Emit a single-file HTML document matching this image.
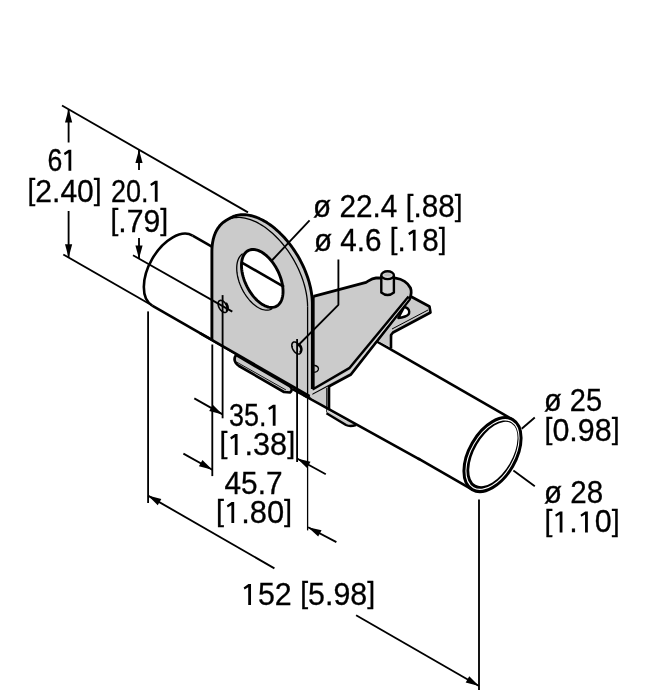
<!DOCTYPE html>
<html><head><meta charset="utf-8">
<style>
html,body{margin:0;padding:0;background:#fff;width:653px;height:700px;overflow:hidden}
svg{display:block;will-change:transform}
text{font-family:"Liberation Sans",sans-serif;font-size:31px;fill:#000;stroke:#000;stroke-width:0.3px}
</style></head><body>
<svg width="653" height="700" viewBox="0 0 653 700">
<g fill="none" stroke="#000" stroke-linecap="butt" stroke-linejoin="round">
<path d="M192.61,235.55 A23.34,40.42 30 0 0 152.19,305.56" stroke-width="2.6"/>
<line x1="152.19" y1="305.56" x2="309.6" y2="396.12" stroke-width="2.6"/>
<line x1="418" y1="458.45" x2="472.29" y2="489.62" stroke-width="2.6"/>
<line x1="192.61" y1="235.55" x2="512.71" y2="419.61" stroke-width="2.6"/>
<ellipse cx="492.5" cy="454.61" rx="23.34" ry="40.42" transform="rotate(30 492.5 454.61)" fill="#fff" stroke-width="3"/>
<ellipse cx="492.5" cy="454.61" rx="20.84" ry="37.62" transform="rotate(30 492.5 454.61)" fill="#000" stroke="none"/>
<ellipse cx="493.4" cy="454.01" rx="18.84" ry="35.62" transform="rotate(30 493.4 454.01)" fill="#fff" stroke="none"/>
<path d="M410,296 L429.5,306.5 L430.5,312.5 L393,332.5 L391,347.5 L378,341 Z" fill="#cbcbcb" stroke="none"/>
<path d="M410,296 L429.5,306.5 L430.5,312.5 L393,332.5 L391,335 L391,348.5" stroke-width="2.6"/>
<path d="M428,310 L392,329" stroke-width="1"/>
<path d="M404.2,307 C410.5,308.5 411,314.5 405,316.5 C403,317.2 400.5,317.8 398.3,318 Z" fill="#fff" stroke-width="2.4"/>
<path d="M313.4,296.3 L366.1,282.3 C370,280 372,278.3 376,278 L395.6,278.1 C402,279 408,283 410.5,288 C412,292 411,296 409.5,299.5 L350.9,374.5 L309.4,396.7 L309.4,296.3 Z" fill="#cbcbcb" stroke="none"/>
<path d="M313.4,296.3 L366.1,282.3 C370,280 372,278.3 376,278 L395.6,278.1 C402,279 408,283 410.5,288 C412,292 411,296 409.5,299.5 L350.9,374.5 L311,396 Q307,397.5 304,395" stroke-width="2.8"/>
<path d="M408.6,296.5 L349.7,367.8 L313.4,389 L313.4,296.3" stroke-width="2.5"/>
<path d="M408.5,299 L350.4,371.3 L312,392.3" stroke="#dedede" stroke-width="0.7"/>
<path d="M314.2,365.2 Q319.5,366.5 318.2,370 Q317,372.5 314.2,372.3" stroke-width="1.4"/>
<path d="M381.3,276 L381.3,292.5 Q387.6,297.5 393.9,292.5 L393.9,276 Z" fill="#d4d4d4" stroke-width="2.4"/>
<ellipse cx="387.6" cy="275.2" rx="6.3" ry="3.9" fill="#d4d4d4" stroke-width="2.4"/>
<ellipse cx="387.6" cy="274.8" rx="3.4" ry="1.5" fill="#bdbdbd" stroke="none"/>
<path d="M309.6,396.2 L329,386 L329,409.26 Z" fill="#cbcbcb" stroke="none"/>
<line x1="329" y1="386" x2="329" y2="409.26" stroke-width="2.6"/>
<line x1="326.8" y1="388" x2="326.8" y2="412.5" stroke-width="1.1"/>
<path d="M327,408.15 L352,421.98 Q356,424.8 354.5,425.8 L349,426.3 L327,413.5 Z" fill="#cbcbcb" stroke="none"/>
<path d="M326.5,413.3 L346,425 Q350,427 356,425" stroke-width="2.5"/>
<path d="M329,411.16 L347,421.12" stroke="#ececec" stroke-width="0.9"/>
<path d="M236,355 L290,386.5 Q293.5,389.5 290,392.5 L284,392 L239,366 Q232,361 236,355 Z" fill="#cbcbcb" stroke-width="2.6"/>
<path d="M236.5,362 L286,390" stroke-width="0.9"/>
<path d="M216.67,342.68 L216.67,248.82 L216.67,248.82 L216.73,245.97 L216.93,243.2 L217.26,240.52 L217.71,237.94 L218.3,235.47 L219.01,233.1 L219.84,230.86 L220.8,228.74 L221.88,226.75 L223.08,224.9 L224.39,223.19 L225.8,221.63 L227.33,220.21 L228.96,218.95 L230.68,217.85 L232.5,216.91 L234.4,216.13 L236.39,215.51 L238.45,215.07 L240.59,214.79 L242.79,214.68 L245.05,214.74 L247.37,214.97 L249.73,215.37 L252.13,215.93 L254.57,216.66 L257.03,217.56 L259.51,218.62 L262.01,219.83 L264.51,221.2 L267.02,222.72 L269.51,224.39 L272,226.2 L274.46,228.15 L276.9,230.23 L279.3,232.44 L281.66,234.77 L283.97,237.21 L286.23,239.76 L288.44,242.41 L290.57,245.16 L292.64,247.99 L294.62,250.9 L296.53,253.88 L298.35,256.92 L300.07,260.01 L301.7,263.15 L303.22,266.32 L304.64,269.53 L305.95,272.75 L307.14,275.98 L308.22,279.21 L309.18,282.44 L310.02,285.65 L310.73,288.83 L311.31,291.98 L311.77,295.09 L312.1,298.15 L312.29,301.15 L312.36,304.07 L312.36,397.71 Z" fill="#cbcbcb" stroke="none"/>
<path d="M211.9,339.94 L211.9,251.57 L211.9,251.57 L211.97,248.72 L212.17,245.95 L212.49,243.27 L212.95,240.69 L213.53,238.22 L214.25,235.85 L215.08,233.61 L216.04,231.49 L217.12,229.5 L218.31,227.65 L219.62,225.94 L221.04,224.38 L222.57,222.96 L224.19,221.7 L225.92,220.6 L227.73,219.66 L229.64,218.88 L231.63,218.26 L233.69,217.82 L235.83,217.54 L238.03,217.43 L240.29,217.49 L242.6,217.72 L244.96,218.12 L247.37,218.68 L249.8,219.41 L252.27,220.31 L254.75,221.37 L257.25,222.58 L259.75,223.95 L262.25,225.47 L264.75,227.14 L267.23,228.95 L269.7,230.9 L272.13,232.98 L274.54,235.19 L276.9,237.52 L279.21,239.96 L281.47,242.51 L283.67,245.16 L285.81,247.91 L287.87,250.74 L289.86,253.65 L291.77,256.63 L293.58,259.67 L295.31,262.76 L296.93,265.9 L298.46,269.07 L299.88,272.28 L301.19,275.5 L302.38,278.73 L303.46,281.96 L304.42,285.19 L305.25,288.4 L305.97,291.58 L306.55,294.73 L307.01,297.84 L307.33,300.9 L307.53,303.9 L307.6,306.82 L307.6,394.97 Z" fill="#cbcbcb" stroke="none"/>
<path d="M225.92,220.6 L227.27,219.88 L228.68,219.25 L230.13,218.71 L231.63,218.26 L233.17,217.91 L234.75,217.66 L236.37,217.5 L238.03,217.43 L239.72,217.46 L241.44,217.58 L243.19,217.8 L244.96,218.12 L246.76,218.53 L248.58,219.03 L250.42,219.62 L252.27,220.31 L254.13,221.09 L256,221.95 L257.87,222.91 L259.75,223.95 L261.63,225.08 L263.5,226.29 L265.37,227.58 L267.23,228.95 L269.08,230.4 L270.92,231.93 L272.74,233.52 L274.54,235.19 L276.31,236.93 L278.06,238.73 L279.78,240.59 L281.47,242.51 L283.13,244.49 L284.75,246.53 L286.33,248.61 L287.87,250.74 L289.37,252.91 L290.82,255.13 L292.23,257.38 L293.58,259.67 L294.88,261.98 L296.13,264.32 L297.32,266.69 L298.46,269.07 L299.53,271.47 L300.55,273.89 L301.5,276.31 L302.38,278.73 L303.2,281.16 L303.95,283.58 L304.64,285.99 L305.25,288.4 L305.8,290.79 L306.27,293.16 L306.68,295.52 L307.01,297.84 L307.26,300.14 L307.45,302.4 L307.56,304.63 L307.6,306.82" stroke-width="1.3"/>
<line x1="307.6" y1="306.82" x2="307.6" y2="530.4" stroke-width="1.3"/>
<path d="M211.9,339.94 L211.9,251.57 L211.9,251.57 L211.93,249.85 L212,248.16 L212.12,246.5 L212.28,244.87 L212.49,243.27 L212.75,241.71 L213.06,240.19 L213.41,238.7 L213.8,237.26 L214.25,235.85 L214.73,234.49 L215.26,233.18 L215.84,231.9 L216.46,230.68 L217.12,229.5 L217.82,228.38 L218.57,227.3 L219.35,226.27 L220.18,225.3 L221.04,224.38 L221.94,223.51 L222.88,222.7 L223.86,221.94 L224.87,221.24 L225.92,220.6 L230.68,217.85 L231.84,217.22 L233.03,216.67 L234.26,216.18 L235.53,215.76 L236.83,215.4 L238.15,215.12 L239.51,214.91 L240.9,214.76 L242.31,214.69 L243.75,214.69 L245.22,214.75 L246.7,214.89 L248.2,215.09 L249.73,215.37 L251.27,215.71 L252.82,216.12 L254.39,216.61 L255.97,217.16 L257.56,217.77 L259.16,218.45 L260.76,219.2 L262.37,220.02 L263.98,220.89 L265.59,221.83 L267.2,222.84 L268.8,223.9 L270.4,225.02 L272,226.2 L273.58,227.44 L275.16,228.73 L276.72,230.08 L278.27,231.48 L279.81,232.93 L281.33,234.43 L282.82,235.98 L284.3,237.57 L285.76,239.21 L287.19,240.89 L288.59,242.61 L289.97,244.37 L291.32,246.16 L292.64,247.99 L293.92,249.85 L295.18,251.74 L296.4,253.66 L297.58,255.61 L298.72,257.57 L299.83,259.56 L300.9,261.57 L301.92,263.6 L302.9,265.64 L303.84,267.69 L304.74,269.76 L305.59,271.83 L306.39,273.9 L307.14,275.98 L307.85,278.06 L308.51,280.14 L309.12,282.21 L309.67,284.28 L310.18,286.33 L310.64,288.38 L311.04,290.41 L311.39,292.43 L311.68,294.43 L311.93,296.41 L312.12,298.36 L312.25,300.3 L312.33,302.2 L312.36,304.07 L312.36,389" stroke-width="2.9"/>
<path d="M283.05,291.41 L283,289.57 L282.84,287.68 L282.59,285.74 L282.24,283.76 L281.79,281.76 L281.25,279.75 L280.61,277.72 L279.89,275.71 L279.08,273.7 L278.18,271.72 L277.21,269.77 L276.17,267.86 L275.06,266 L273.89,264.21 L272.65,262.48 L271.37,260.83 L270.05,259.27 L268.69,257.8 L267.29,256.44 L265.87,255.17 L264.44,254.03 L262.99,253 L261.54,252.09 L260.09,251.32 L258.65,250.67 L257.23,250.16 L255.84,249.79 L254.48,249.56 L253.15,249.47 L251.87,249.52 L250.64,249.71 L249.47,250.05 L248.36,250.52 L247.31,251.12 L246.34,251.86 L245.45,252.73 L244.64,253.72 L243.91,254.84 L243.28,256.07 L242.73,257.41 L242.28,258.85 L241.93,260.38 L241.68,262.01 L241.53,263.71 L241.48,265.49 L241.53,267.33 L241.68,269.22 L241.93,271.16 L242.28,273.14 L242.73,275.14 L243.28,277.15 L243.91,279.18 L244.64,281.19 L245.45,283.2 L246.34,285.18 L247.31,287.13 L248.36,289.04 L249.47,290.9 L250.64,292.69 L251.87,294.42 L253.15,296.07 L254.48,297.63 L255.84,299.1 L257.23,300.46 L258.65,301.73 L260.09,302.87 L261.54,303.9 L262.99,304.81 L264.44,305.58 L265.87,306.23 L267.29,306.74 L268.69,307.11 L270.05,307.34 L271.37,307.43 L272.65,307.38 L273.89,307.19 L275.06,306.85 L276.17,306.38 L277.21,305.78 L278.18,305.04 L279.08,304.17 L279.89,303.18 L280.61,302.06 L281.25,300.83 L281.79,299.49 L282.24,298.05 L282.59,296.52 L282.84,294.89 L283,293.19 L283.05,291.41 Z" fill="#fff" stroke-width="2.9"/>
<path d="M242.8,253.71 L241.91,254.34 L241.08,255.07 L240.31,255.91 L239.61,256.85 L238.98,257.89 L238.43,259.01 L237.94,260.23 L237.54,261.52 L237.22,262.9 L236.97,264.34 L236.81,265.86 L236.73,267.43 L236.73,269.06 L236.81,270.74 L236.97,272.45 L237.22,274.21 L237.54,275.99 L237.94,277.79 L238.43,279.6 L238.98,281.42 L239.61,283.24 L240.31,285.05 L241.08,286.85 L241.91,288.62 L242.8,290.36 L243.76,292.07 L244.76,293.74 L245.82,295.35 L246.92,296.91 L248.06,298.41 L249.25,299.84 L250.46,301.2 L251.7,302.48 L252.97,303.67 L254.25,304.77 L255.54,305.79 L256.85,306.7 L258.15,307.51 L259.46,308.22 L260.75,308.83 L262.03,309.32 L263.3,309.71 L264.54,309.98 L265.75,310.14 L266.94,310.18 L268.08,310.11 L269.18,309.92 L270.24,309.62 L271.24,309.21 L272.2,308.69" stroke-width="1.3"/>
<line x1="241" y1="262.13" x2="284" y2="286.85" stroke-width="2.6"/>
<path d="M227.48,309.1 L227.42,308.22 L227.25,307.3 L226.97,306.35 L226.58,305.41 L226.11,304.49 L225.55,303.62 L224.92,302.81 L224.25,302.1 L223.53,301.49 L222.8,301 L222.07,300.64 L221.35,300.43 L220.68,300.36 L220.05,300.44 L219.49,300.67 L219.02,301.04 L218.63,301.54 L218.35,302.16 L218.18,302.89 L218.12,303.7 L218.18,304.58 L218.35,305.5 L218.63,306.45 L219.02,307.39 L219.49,308.31 L220.05,309.18 L220.68,309.99 L221.35,310.7 L222.07,311.31 L222.8,311.8 L223.53,312.16 L224.25,312.37 L224.92,312.44 L225.55,312.36 L226.11,312.13 L226.58,311.76 L226.97,311.26 L227.25,310.64 L227.42,309.91 L227.48,309.1 Z" stroke-width="1.6"/>
<path d="M225.86,310.5 L226.19,310.44 L226.49,310.33 L226.77,310.18 L227.01,309.97 L227.22,309.71 L227.4,309.41 L227.54,309.07 L227.64,308.7 L227.7,308.29 L227.72,307.85 L227.7,307.39 L227.64,306.91 L227.54,306.42 L227.4,305.92 L227.22,305.41 L227.01,304.91 L226.77,304.42 L226.49,303.94 L226.19,303.48 L225.86,303.05" stroke-width="2.4"/>
<path d="M301.18,350.7 L301.12,349.82 L300.95,348.9 L300.67,347.95 L300.28,347.01 L299.81,346.09 L299.25,345.22 L298.62,344.41 L297.95,343.7 L297.23,343.09 L296.5,342.6 L295.77,342.24 L295.05,342.03 L294.38,341.96 L293.75,342.04 L293.19,342.27 L292.72,342.64 L292.33,343.14 L292.05,343.76 L291.88,344.49 L291.82,345.3 L291.88,346.18 L292.05,347.1 L292.33,348.05 L292.72,348.99 L293.19,349.91 L293.75,350.78 L294.38,351.59 L295.05,352.3 L295.77,352.91 L296.5,353.4 L297.23,353.76 L297.95,353.97 L298.62,354.04 L299.25,353.96 L299.81,353.73 L300.28,353.36 L300.67,352.86 L300.95,352.24 L301.12,351.51 L301.18,350.7 Z" stroke-width="1.6"/>
<path d="M299.56,352.1 L299.89,352.04 L300.19,351.93 L300.47,351.78 L300.71,351.57 L300.92,351.31 L301.1,351.01 L301.24,350.67 L301.34,350.3 L301.4,349.89 L301.42,349.45 L301.4,348.99 L301.34,348.51 L301.24,348.02 L301.1,347.52 L300.92,347.01 L300.71,346.51 L300.47,346.02 L300.19,345.54 L299.89,345.08 L299.56,344.65" stroke-width="2.4"/>
<line x1="200" y1="333.1" x2="309.6" y2="396.12" stroke-width="2.6"/>
<line x1="292.2" y1="388.9" x2="420" y2="459.6" stroke-width="2.6"/>
<line x1="62" y1="105.5" x2="248" y2="212.4" stroke-width="1.85"/>
<line x1="63.3" y1="254.5" x2="152.19" y2="305.56" stroke-width="1.85"/>
<line x1="68.6" y1="142.5" x2="68.6" y2="109.3" stroke-width="1.85"/><path d="M68.6,109.3 L72.2,122.6 L65,122.6 Z" fill="#000" stroke="none"/>
<line x1="68.6" y1="211" x2="68.6" y2="257.55" stroke-width="1.85"/><path d="M68.6,257.55 L65,244.25 L72.2,244.25 Z" fill="#000" stroke="none"/>
<line x1="139" y1="170" x2="139" y2="149.8" stroke-width="1.85"/><path d="M139,149.8 L142.6,163.1 L135.4,163.1 Z" fill="#000" stroke="none"/>
<line x1="139" y1="238" x2="139" y2="258.7" stroke-width="1.85"/><path d="M139,258.7 L135.4,245.4 L142.6,245.4 Z" fill="#000" stroke="none"/>
<line x1="133" y1="255.3" x2="232.3" y2="311.6" stroke-width="1.85"/>
<line x1="309.6" y1="220.3" x2="271.4" y2="261" stroke-width="1.85"/>
<path d="M338.4,259.4 L338.4,304.8 L297.5,346" stroke-width="1.85"/>
<line x1="521.7" y1="428.8" x2="534.8" y2="417.5" stroke-width="1.85"/>
<line x1="513.4" y1="470.6" x2="534.8" y2="486.2" stroke-width="1.85"/>
<line x1="148.1" y1="311.4" x2="148.1" y2="503" stroke-width="1.85"/>
<line x1="212.3" y1="344.5" x2="212.3" y2="476.1" stroke-width="1.85"/>
<line x1="222.6" y1="295.1" x2="222.6" y2="418.3" stroke-width="1.85"/>
<line x1="297.1" y1="339" x2="297.1" y2="462" stroke-width="1.85"/>
<line x1="479" y1="499.4" x2="479" y2="690" stroke-width="1.85"/>
<line x1="194.3" y1="398.4" x2="222.6" y2="414.4" stroke-width="1.85"/><path d="M222.6,414.4 L209.25,410.99 L212.79,404.72 Z" fill="#000" stroke="none"/>
<line x1="183.4" y1="453.6" x2="212.3" y2="469.7" stroke-width="1.85"/><path d="M212.3,469.7 L198.93,466.37 L202.43,460.08 Z" fill="#000" stroke="none"/>
<line x1="325.8" y1="474.3" x2="297.1" y2="458.5" stroke-width="1.85"/><path d="M297.1,458.5 L310.49,461.76 L307.01,468.07 Z" fill="#000" stroke="none"/>
<line x1="336.4" y1="542.1" x2="308.1" y2="527.2" stroke-width="1.85"/><path d="M308.1,527.2 L321.55,530.21 L318.19,536.58 Z" fill="#000" stroke="none"/>
<line x1="274.4" y1="568.4" x2="148" y2="495.6" stroke-width="1.85"/><path d="M148,495.6 L161.32,499.12 L157.73,505.36 Z" fill="#000" stroke="none"/>
<line x1="356.1" y1="615.3" x2="479" y2="686" stroke-width="1.85"/><path d="M479,686 L465.68,682.49 L469.27,676.25 Z" fill="#000" stroke="none"/>
</g>
<g>
<text x="47.5" y="170.8" textLength="29.63" lengthAdjust="spacingAndGlyphs">6 </text>
<text x="27.5" y="201.5" textLength="74.13" lengthAdjust="spacingAndGlyphs"><tspan dy="-1.8" style="font-size:29px">[</tspan><tspan dy="1.8">2.40</tspan><tspan dy="-1.8" style="font-size:29px">]</tspan></text>
<text x="111" y="201.7" textLength="52.57" lengthAdjust="spacingAndGlyphs">20. </text>
<text x="110.5" y="231.7" textLength="57.73" lengthAdjust="spacingAndGlyphs"><tspan dy="-1.8" style="font-size:29px">[</tspan><tspan dy="1.8">.79</tspan><tspan dy="-1.8" style="font-size:29px">]</tspan></text>
<text x="313" y="217.4" textLength="149.52" lengthAdjust="spacingAndGlyphs">ø 22.4 <tspan dy="-1.8" style="font-size:29px">[</tspan><tspan dy="1.8">.88</tspan><tspan dy="-1.8" style="font-size:29px">]</tspan></text>
<text x="314" y="250.8" textLength="132.54" lengthAdjust="spacingAndGlyphs">ø 4.6 <tspan dy="-1.8" style="font-size:29px">[</tspan><tspan dy="1.8">. 8</tspan><tspan dy="-1.8" style="font-size:29px">]</tspan></text>
<text x="544" y="411.2" textLength="58.05" lengthAdjust="spacingAndGlyphs">ø 25</text>
<text x="544.5" y="441.1" textLength="75.09" lengthAdjust="spacingAndGlyphs"><tspan dy="-1.8" style="font-size:29px">[</tspan><tspan dy="1.8">0.98</tspan><tspan dy="-1.8" style="font-size:29px">]</tspan></text>
<text x="544" y="502.9" textLength="59.05" lengthAdjust="spacingAndGlyphs">ø 28</text>
<text x="544.5" y="532.4" textLength="75.09" lengthAdjust="spacingAndGlyphs"><tspan dy="-1.8" style="font-size:29px">[</tspan><tspan dy="1.8"> . 0</tspan><tspan dy="-1.8" style="font-size:29px">]</tspan></text>
<text x="229" y="425.7" textLength="52.53" lengthAdjust="spacingAndGlyphs">35. </text>
<text x="219.5" y="455" textLength="75.67" lengthAdjust="spacingAndGlyphs"><tspan dy="-1.8" style="font-size:29px">[</tspan><tspan dy="1.8"> .38</tspan><tspan dy="-1.8" style="font-size:29px">]</tspan></text>
<text x="224.5" y="494.1" textLength="58.02" lengthAdjust="spacingAndGlyphs">45.7</text>
<text x="216" y="523.1" textLength="76.14" lengthAdjust="spacingAndGlyphs"><tspan dy="-1.8" style="font-size:29px">[</tspan><tspan dy="1.8"> .80</tspan><tspan dy="-1.8" style="font-size:29px">]</tspan></text>
<text x="241" y="605.1" textLength="134.1" lengthAdjust="spacingAndGlyphs"> 52 <tspan dy="-1.8" style="font-size:29px">[</tspan><tspan dy="1.8">5.98</tspan><tspan dy="-1.8" style="font-size:29px">]</tspan></text>
<path d="M68.47,170.8 L68.47,153 L64.87,155.2 L63.87,153.1 L68.67,149.8 L71.27,149.8 L71.27,170.8 Z" fill="#000"/>
<path d="M154.81,201.7 L154.81,183.9 L151.21,186.1 L150.21,184 L155.01,180.7 L157.61,180.7 L157.61,201.7 Z" fill="#000"/>
<path d="M412.83,250.8 L412.83,233 L409.23,235.2 L408.23,233.1 L413.03,229.8 L415.63,229.8 L415.63,250.8 Z" fill="#000"/>
<path d="M559.66,532.4 L559.66,514.6 L556.06,516.8 L555.06,514.7 L559.86,511.4 L562.46,511.4 L562.46,532.4 Z" fill="#000"/>
<path d="M585.04,532.4 L585.04,514.6 L581.44,516.8 L580.44,514.7 L585.24,511.4 L587.84,511.4 L587.84,532.4 Z" fill="#000"/>
<path d="M272.77,425.7 L272.77,407.9 L269.17,410.1 L268.17,408 L272.97,404.7 L275.57,404.7 L275.57,425.7 Z" fill="#000"/>
<path d="M234.78,455 L234.78,437.2 L231.18,439.4 L230.18,437.3 L234.98,434 L237.58,434 L237.58,455 Z" fill="#000"/>
<path d="M231.39,523.1 L231.39,505.3 L227.79,507.5 L226.79,505.4 L231.59,502.1 L234.19,502.1 L234.19,523.1 Z" fill="#000"/>
<path d="M248.22,605.1 L248.22,587.3 L244.62,589.5 L243.62,587.4 L248.42,584.1 L251.02,584.1 L251.02,605.1 Z" fill="#000"/>
</g>
</svg>
</body></html>
